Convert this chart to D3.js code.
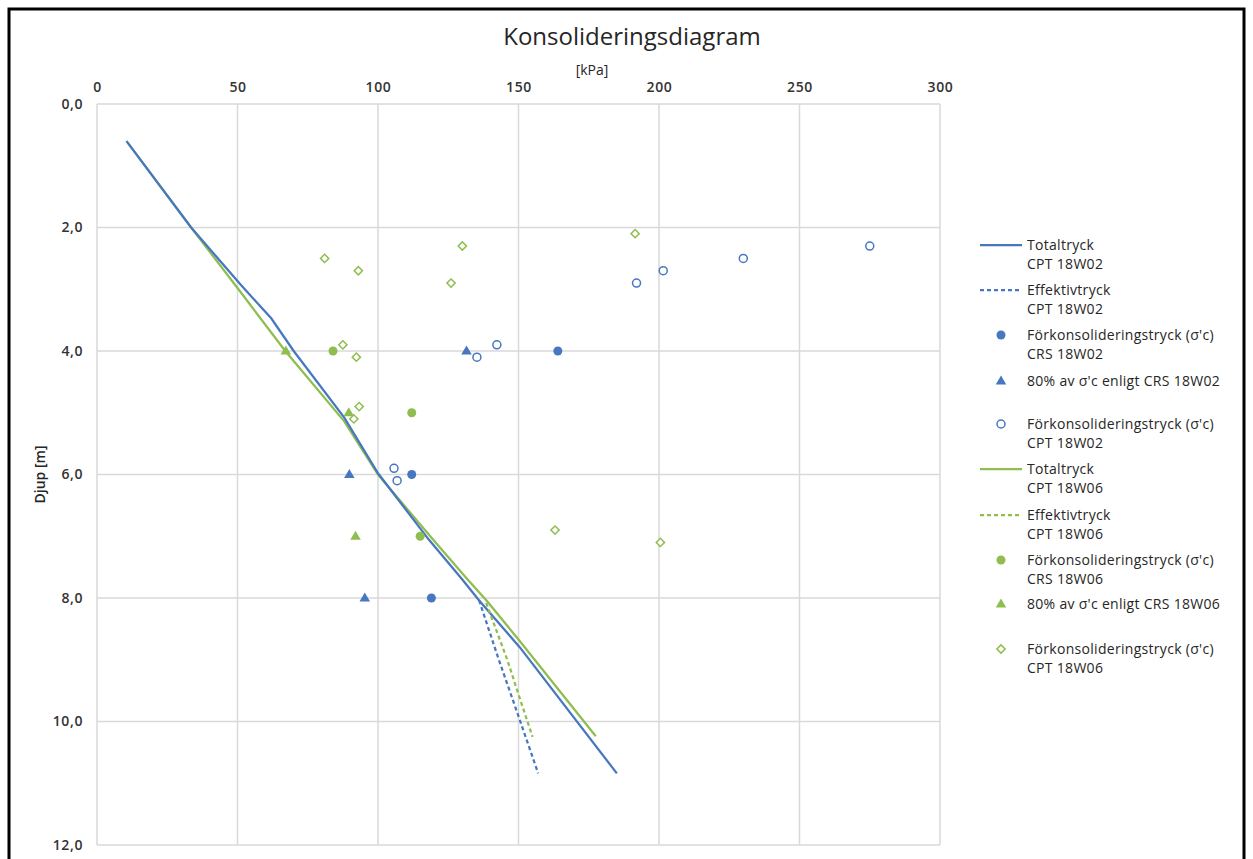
<!DOCTYPE html>
<html>
<head>
<meta charset="utf-8">
<script src="https://cdn.jsdelivr.net/npm/d3@7"></script>
<style>
  body { margin: 0; background: #fff; }
  svg text { font-family: "Open Sans", "Noto Sans", sans-serif; fill: #262626; }
</style>
</head>
<body>
<script>
const svgWidth = 1253,
    svgHeight = 859;

const blue = "#4677c0",
    green = "#8fbd4f";

// tick values
const xTicks = [0, 50, 100, 150, 200, 250, 300];
const yTicks = [0, 2, 4, 6, 8, 10, 12];

// [kPa, depth m]
const totalW02 = [[10.5, 0.6], [33.5, 2.0], [41.5, 2.42], [51, 2.92], [62, 3.47], [70, 4.0], [88, 5.08], [100, 5.98],
    [118, 7.05], [130, 7.7], [136, 8.04], [150.5, 8.8], [185, 10.84]];
const effW02 = [[136, 8.04], [143, 9.0], [150.5, 9.98], [157, 10.84]];
const totalW06 = [[10.5, 0.6], [33.5, 2.0], [50, 2.98], [67, 4.0], [88, 5.14], [100, 6.0], [119.5, 7.05],
    [131.5, 7.68], [139, 8.06], [150.5, 8.7], [177.5, 10.24]];
const effW06 = [[138.5, 8.08], [146, 9.0], [151, 9.7], [155, 10.25]];

const crsW02 = [[164, 4.0], [112, 6.0], [119, 8.0]];
const pct80W02 = [[131.5, 4.0], [89.8, 6.0], [95.3, 8.0]];
const cptW02 = [[275, 2.3], [230, 2.5], [201.5, 2.7], [192, 2.9], [142.3, 3.9], [135.2, 4.1], [105.7, 5.9], [106.8, 6.1]];

const crsW06 = [[84, 4.0], [112, 5.0], [115, 7.0]];
const pct80W06 = [[67.2, 4.0], [89.6, 5.0], [92, 7.0]];
const cptW06 = [[191.5, 2.1], [130, 2.3], [81, 2.5], [93, 2.7], [126, 2.9], [87.5, 3.9], [92.3, 4.1], [93.3, 4.9],
    [91.4, 5.1], [163, 6.9], [200.5, 7.1]];

const legendItems = [
    { type: "line", color: blue, dash: null, text: ["Totaltryck", "CPT 18W02"] },
    { type: "line", color: blue, dash: "4,3", text: ["Effektivtryck", "CPT 18W02"] },
    { type: "circle", color: blue, text: ["Förkonsolideringstryck (σ'c)", "CRS 18W02"] },
    { type: "triangle", color: blue, text: ["80% av σ'c enligt CRS 18W02"] },
    { type: "open", color: blue, text: ["Förkonsolideringstryck (σ'c)", "CPT 18W02"] },
    { type: "line", color: green, dash: null, text: ["Totaltryck", "CPT 18W06"] },
    { type: "line", color: green, dash: "4,3", text: ["Effektivtryck", "CPT 18W06"] },
    { type: "circle", color: green, text: ["Förkonsolideringstryck (σ'c)", "CRS 18W06"] },
    { type: "triangle", color: green, text: ["80% av σ'c enligt CRS 18W06"] },
    { type: "diamond", color: green, text: ["Förkonsolideringstryck (σ'c)", "CPT 18W06"] }
];
const legendY = [245, 290, 335, 381, 424, 469, 515, 560, 604, 649];

const svg = d3.select("body").append("svg")
    .attr("width", svgWidth)
    .attr("height", svgHeight);

// outer frame
svg.append("rect")
    .attr("x", 9).attr("y", 9)
    .attr("width", 1235).attr("height", 870)
    .attr("fill", "none")
    .attr("stroke", "#000")
    .attr("stroke-width", 3);

const x = d3.scaleLinear().domain([0, 300]).range([97, 940]);
const y = d3.scaleLinear().domain([0, 12]).range([104, 845]);

// grid
svg.append("g").selectAll("line").data(xTicks).enter().append("line")
    .attr("x1", d => x(d)).attr("x2", d => x(d))
    .attr("y1", y(0)).attr("y2", y(12))
    .attr("stroke", "#d9d9d9").attr("stroke-width", 1.5);
svg.append("g").selectAll("line").data(yTicks).enter().append("line")
    .attr("y1", d => y(d)).attr("y2", d => y(d))
    .attr("x1", x(0)).attr("x2", x(300))
    .attr("stroke", "#d9d9d9").attr("stroke-width", 1.5);

// axes (labels only)
const xAxis = svg.append("g")
    .attr("transform", "translate(0," + (y(0) - 12) + ")")
    .call(d3.axisTop(x).tickValues(xTicks).tickSize(0).tickPadding(0));
const yAxis = svg.append("g")
    .attr("transform", "translate(" + (x(0) - 14) + ",0)")
    .call(d3.axisLeft(y).tickValues(yTicks).tickSize(0).tickPadding(0)
        .tickFormat(d => d3.format(".1f")(d).replace(".", ",")));
[xAxis, yAxis].forEach(function (a) {
    a.select(".domain").remove();
    a.selectAll("text")
        .attr("font-size", 14)
        .attr("font-weight", 600)
        .attr("letter-spacing", 0.6)
        .style("font-family", "'Open Sans', sans-serif")
        .style("fill", "#333");
});

// titles
svg.append("text")
    .attr("x", 632).attr("y", 45)
    .attr("text-anchor", "middle")
    .attr("font-size", 24)
    .text("Konsolideringsdiagram");
svg.append("text")
    .attr("x", 592).attr("y", 75)
    .attr("text-anchor", "middle")
    .attr("font-size", 14)
    .text("[kPa]");
svg.append("text")
    .attr("transform", "translate(45," + y(6) + ") rotate(-90)")
    .attr("text-anchor", "middle")
    .attr("font-size", 14)
    .attr("font-weight", 600)
    .text("Djup [m]");

// lines
const line = d3.line().x(d => x(d[0])).y(d => y(d[1]));
function drawLine(data, color, dash) {
    svg.append("path")
        .datum(data)
        .attr("d", line)
        .attr("fill", "none")
        .attr("stroke", color)
        .attr("stroke-width", 2.25)
        .attr("stroke-dasharray", dash);
}
drawLine(totalW06, green, null);
drawLine(totalW02, blue, null);
drawLine(effW02, blue, "4,3");
drawLine(effW06, green, "4,3");

// markers
function marker(sel, type, color) {
    if (type === "circle") {
        sel.append("circle").attr("r", 4.5).attr("fill", color);
    } else if (type === "open") {
        sel.append("circle").attr("r", 4).attr("fill", "#fff").attr("stroke", color).attr("stroke-width", 1.5);
    } else if (type === "triangle") {
        sel.append("path").attr("d", d3.symbol(d3.symbolTriangle, 48)).attr("fill", color)
            .attr("transform", "translate(0,0.5)");
    } else if (type === "diamond") {
        sel.append("path").attr("d", d3.symbol(d3.symbolSquare, 34)).attr("fill", "#fff")
            .attr("transform", "rotate(45)")
            .attr("stroke", color).attr("stroke-width", 1.5);
    }
}
function drawPoints(data, type, color) {
    svg.append("g").selectAll("g").data(data).enter().append("g")
        .attr("transform", d => "translate(" + x(d[0]) + "," + y(d[1]) + ")")
        .each(function () { marker(d3.select(this), type, color); });
}
drawPoints(cptW06, "diamond", green);
drawPoints(cptW02, "open", blue);
drawPoints(crsW02, "circle", blue);
drawPoints(pct80W02, "triangle", blue);
drawPoints(crsW06, "circle", green);
drawPoints(pct80W06, "triangle", green);

// legend
const lg = svg.append("g").selectAll("g").data(legendItems).enter().append("g")
    .attr("transform", (d, i) => "translate(0," + legendY[i] + ")");
lg.each(function (d) {
    const g = d3.select(this);
    if (d.type === "line") {
        g.append("line").attr("x1", 980).attr("x2", 1022).attr("y1", 0).attr("y2", 0)
            .attr("stroke", d.color).attr("stroke-width", 2.25)
            .attr("stroke-dasharray", d.dash);
    } else {
        marker(g.append("g").attr("transform", "translate(1001,0)"), d.type, d.color);
    }
    d.text.forEach(function (t, j) {
        g.append("text")
            .attr("x", 1027).attr("y", j * 19 + 5)
            .attr("font-size", 14)
            .attr("letter-spacing", 0.3)
            .text(t);
    });
});
</script>
</body>
</html>
